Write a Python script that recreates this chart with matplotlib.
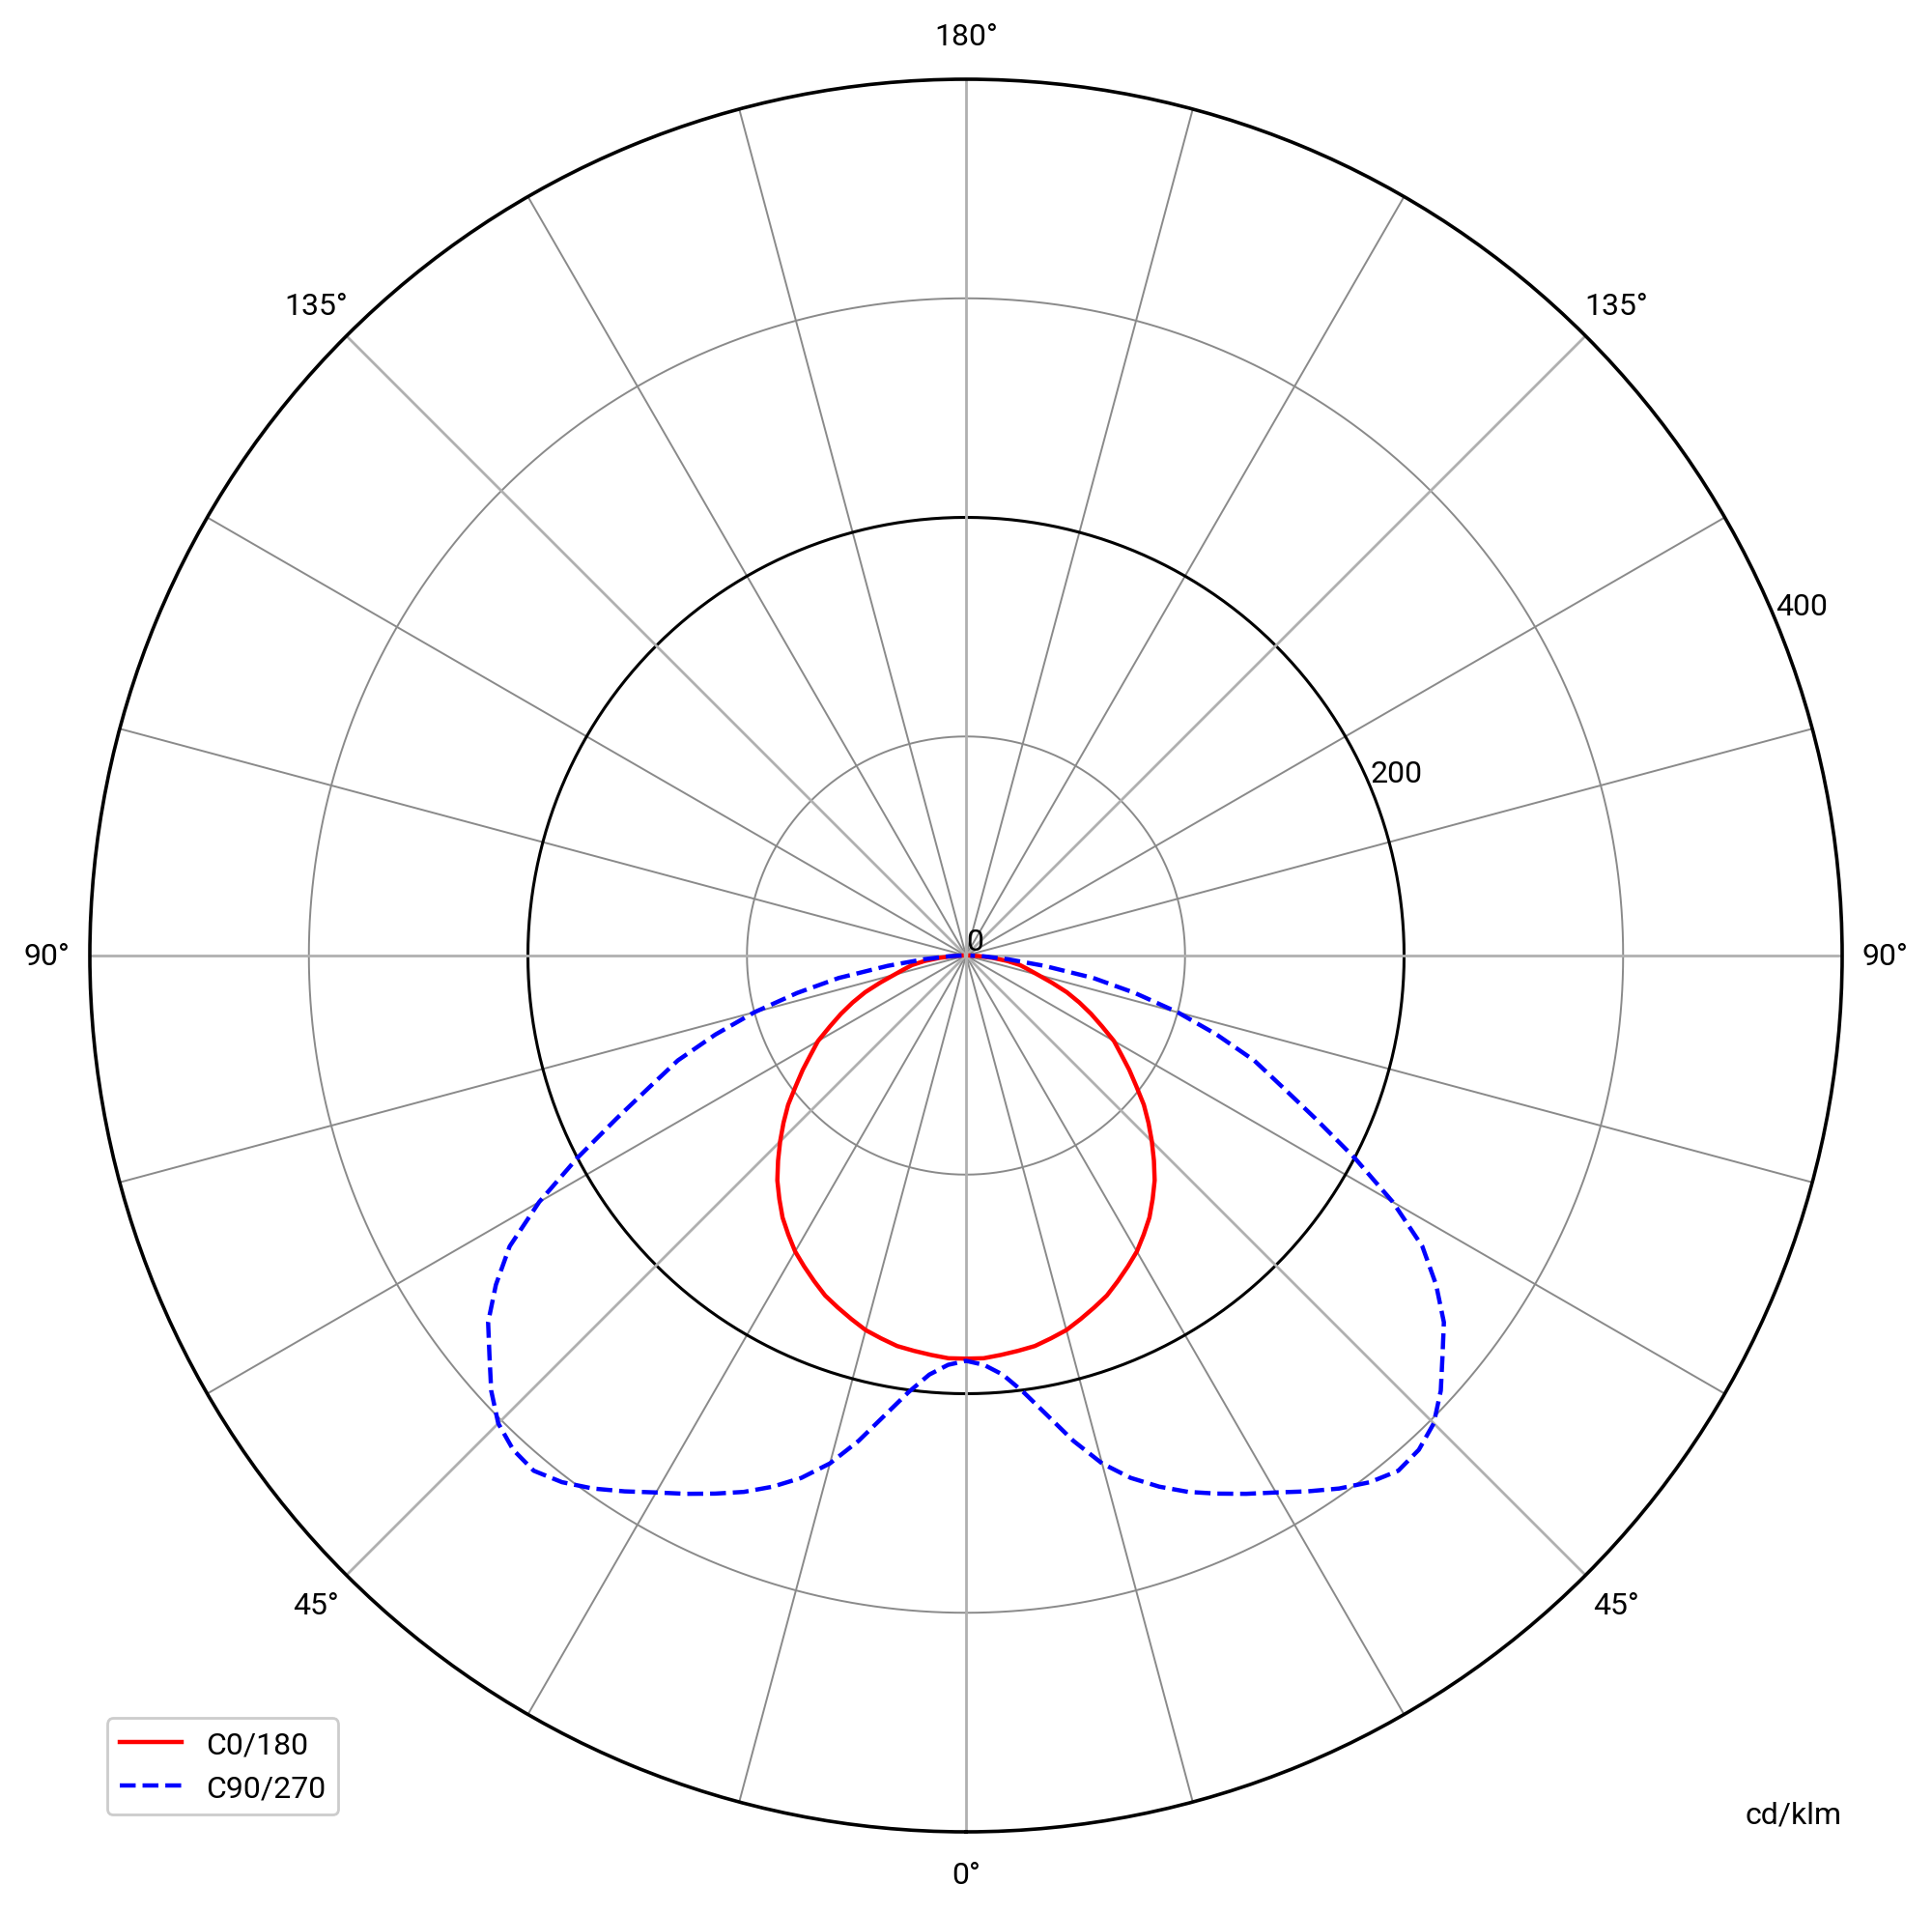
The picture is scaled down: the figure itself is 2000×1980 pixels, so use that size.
import numpy as np
import matplotlib
matplotlib.use("Agg")
import matplotlib.pyplot as plt

plt.rcParams['font.family'] = ['Roboto', 'DejaVu Sans']

# gamma angles (deg) and intensities (cd/klm), read every 2.5 deg
gamma = [0, 2.5, 5, 7.5, 10, 12.5, 15, 17.5, 20, 22.5, 25, 27.5, 30, 32.5, 35, 37.5,
         40, 42.5, 45, 47.5, 50, 52.5, 55, 57.5, 60, 62.5, 65, 67.5, 70, 72.5, 75,
         77.5, 80, 82.5, 85, 87.5, 90]
c0_180 = [184, 184, 183, 182, 181, 179, 177, 174, 171, 168, 164, 160, 156, 151, 146, 140,
          134, 127, 120, 113, 106, 98, 91, 84, 78, 70, 63, 56, 49, 41, 34,
          29, 25, 19, 12, 6, 2]
c90_270 = [185, 187, 192, 201, 213, 227, 240, 250, 258, 265, 271, 277, 283, 290, 297, 303,
           307, 306, 302, 294, 284, 275, 262, 247, 225, 200, 176, 156, 140, 120, 100,
           79, 59, 36, 19, 8, 2]

series_labels = ["C0/180", "C90/270"]
theta_tick_deg = [0, 45, 90, 135, 180, 225, 270, 315]
theta_tick_labels = ["0°", "45°", "90°", "135°", "180°", "135°", "90°", "45°"]
r_ticks = [0, 100, 200, 300, 400]
r_tick_labels = ["0", "", "200", "", "400"]
unit_label = "cd/klm"


def mirror(g, v):
    g = np.asarray(g, float)
    v = np.asarray(v, float)
    th = np.concatenate([-g[::-1], g[1:]])
    rr = np.concatenate([v[::-1], v[1:]])
    return np.deg2rad(th), rr


fig = plt.figure(figsize=(10, 9.905), dpi=200)
ax = fig.add_axes([0.0465, 0.0424, 0.907, 0.9157], projection='polar')
ax.set_theta_zero_location('S')
ax.set_ylim(0, 400)

# theta grid
ax.set_thetagrids(theta_tick_deg, theta_tick_labels, fontsize=11.5)
ax.xaxis.grid(True, color='#b0b0b0', lw=1.0)
ax.tick_params(axis='x', pad=5.5)
full = np.linspace(0, 2 * np.pi, 721)
for d in range(0, 360, 15):
    if d % 45 != 0:
        ax.plot([np.deg2rad(d)] * 2, [0, 400], color='#8a8a8a', lw=0.7, zorder=1)

# radial grid
ax.set_rticks(r_ticks)
ax.set_yticklabels(r_tick_labels, fontsize=11.5)
ax.set_rlabel_position(112.5)
ax.yaxis.grid(False)
for rv in r_ticks[1:-1]:
    col = 'black' if rv == 200 else '#8a8a8a'
    lw = 1.1 if rv == 200 else 0.7
    ax.plot(full, np.full_like(full, rv), color=col, lw=lw, zorder=1)
ax.spines['polar'].set_color('black')
ax.spines['polar'].set_linewidth(1.3)

th, rr = mirror(gamma, c0_180)
ax.plot(th, rr, color='#ff0000', lw=1.6, label=series_labels[0], zorder=3)
th, rr = mirror(gamma, c90_270)
ax.plot(th, rr, color='#0000ff', lw=1.6, ls='--', label=series_labels[1], zorder=3)

fig.legend(loc='lower left', bbox_to_anchor=(0.0555, 0.0515), fontsize=11.5,
           fancybox=True, framealpha=1, edgecolor='#cccccc', borderaxespad=0)

fig.text(0.928, 0.0515, unit_label, fontsize=11.5, ha='center', va='center')

fig.savefig('out.png', dpi=200)
